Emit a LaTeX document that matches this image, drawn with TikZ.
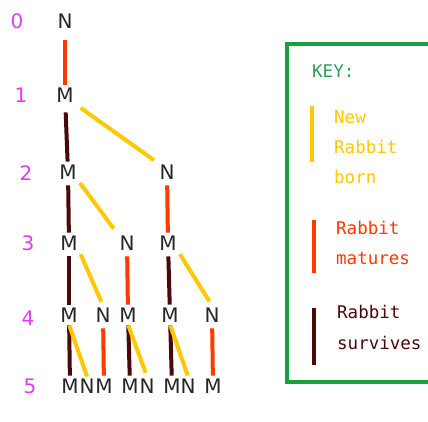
\documentclass[tikz,border=0pt]{standalone}
\usepackage{fontspec}
\setmainfont{DejaVu Sans}
\newfontfamily\keyfont{DejaVu Sans Mono}
\definecolor{bornc}{HTML}{FFC800}
\definecolor{maturec}{HTML}{FF3A00}
\definecolor{survivec}{HTML}{4A0808}
\definecolor{keygreen}{HTML}{18A040}
\definecolor{keytext}{HTML}{2E9E58}
\definecolor{lvlc}{HTML}{E23CF6}
\begin{document}
\begin{tikzpicture}[x=1pt,y=-1pt,
  rab/.style={font=\fontsize{20}{20}\selectfont, inner sep=2pt, text height=14.5pt, text depth=0pt, text=black!85},
  lvlnum/.style={font=\fontsize{20}{20}\selectfont, inner sep=0pt, text height=14.5pt, text depth=0pt, text=lvlc},
  edgebase/.style={line width=4pt, shorten <=4pt, shorten >=1pt},
  bornline/.style={edgebase, draw=bornc},
  matureline/.style={edgebase, draw=maturec},
  surviveline/.style={edgebase, draw=survivec},
  keybar/.style={line width=3.5pt},
  keylabel/.style={font=\keyfont\fontsize{17.5}{17.5}\selectfont, inner sep=0pt, anchor=base west},
]
\useasboundingbox (0,0) rectangle (428,422);
\clip (0,0) rectangle (428,422);
\fill[white] (0,0) rectangle (428,422);

% level numbers
\node[lvlnum] (l0) at (17,21) {0};
\node[lvlnum] (l1) at (21,95) {1};
\node[lvlnum] (l2) at (26,173) {2};
\node[lvlnum] (l3) at (28,243) {3};
\node[lvlnum] (l4) at (28,318) {4};
\node[lvlnum] (l5) at (30,386) {5};

% tree nodes
\node[rab] (n0) at (65,21) {N};
\node[rab] (m1) at (65,95) {M};
\node[rab] (m2) at (68,172) {M};
\node[rab] (n2) at (167,172) {N};
\node[rab] (m3a) at (69,243) {M};
\node[rab] (n3) at (127,243) {N};
\node[rab] (m3b) at (168,243) {M};
\node[rab] (m4a) at (69,315) {M};
\node[rab] (n4a) at (103,315) {N};
\node[rab] (m4b) at (128,315) {M};
\node[rab] (m4c) at (170,315) {M};
\node[rab] (n4b) at (212,315) {N};
\node[rab] (m5a) at (70,386) {M};
\node[rab] (n5a) at (87,386) {N};
\node[rab] (m5b) at (104,386) {M};
\node[rab] (m5c) at (130,386) {M};
\node[rab] (n5b) at (147,386) {N};
\node[rab] (m5d) at (172,386) {M};
\node[rab] (n5c) at (188,386) {N};
\node[rab] (m5e) at (213,386) {M};

% connectors
\draw[matureline, shorten <=10pt] (n0) -- (m1);
\draw[surviveline, shorten <=8pt] (m1) -- (m2);
\draw[bornline, shorten <=6pt, shorten >=4pt] (m1.south east) -- (n2.north west);
\draw[surviveline] (m2) -- (m3a);
\draw[bornline, shorten <=2pt, shorten >=6pt] (m2.south east) -- (n3.north west);
\draw[matureline] (n2) -- (m3b);
\draw[surviveline] (m3a) -- (m4a);
\draw[bornline, shorten <=2pt, shorten >=4pt] (m3a.south east) -- (n4a.north);
\draw[matureline] (n3) -- (m4b);
\draw[surviveline] (m3b) -- (m4c);
\draw[bornline, shorten <=2pt, shorten >=5pt] (m3b.south east) -- (n4b.north);
\draw[surviveline, shorten <=1pt] (m4a) -- (m5a);
\draw[bornline, shorten <=1pt, shorten >=0pt] (m4a.south) -- (n5a.north);
\draw[matureline] (n4a) -- (m5b);
\draw[surviveline, shorten <=1pt] (m4b) -- (m5c);
\draw[bornline, shorten <=1pt, shorten >=4pt] (m4b.south) -- (n5b.north);
\draw[surviveline, shorten <=1pt] (m4c) -- (m5d);
\draw[bornline, shorten <=1pt, shorten >=1pt] (m4c.south) -- (n5c.north);
\draw[matureline] (n4b) -- (m5e);

% key
\draw[keygreen, line width=3.5pt] (287,44) rectangle (440,382);
\node[keylabel, text=keytext] (keyt) at (312,78) {KEY:};
\coordinate (yb1) at (312,106);
\coordinate (yb2) at (312,162);
\draw[keybar, bornc] (yb1) -- (yb2);
\node[keylabel, text=bornc] (k1a) at (334,124) {New};
\node[keylabel, text=bornc] (k1b) at (334,154) {Rabbit};
\node[keylabel, text=bornc] (k1c) at (334,184) {born};
\coordinate (rb1) at (314,220);
\coordinate (rb2) at (314,273);
\draw[keybar, maturec] (rb1) -- (rb2);
\node[keylabel, text=maturec] (k2a) at (336,234) {Rabbit};
\node[keylabel, text=maturec] (k2b) at (336,264) {matures};
\coordinate (db1) at (314,308);
\coordinate (db2) at (314,365);
\draw[keybar, survivec] (db1) -- (db2);
\node[keylabel, text=survivec] (k3a) at (337,318) {Rabbit};
\node[keylabel, text=survivec] (k3b) at (337,349) {survives};
\end{tikzpicture}
\end{document}
